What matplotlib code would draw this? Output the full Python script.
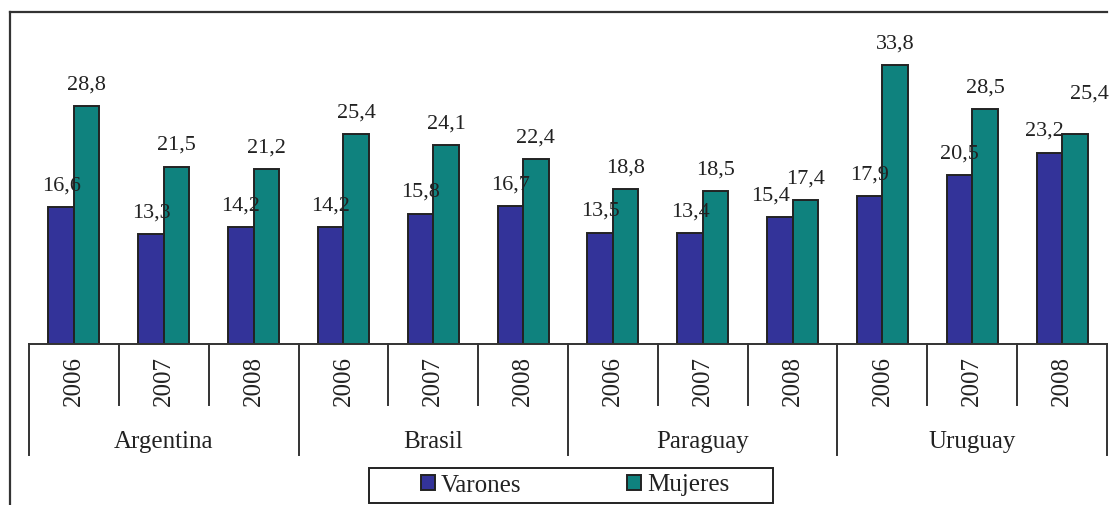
import numpy as np
import matplotlib.pyplot as plt
from matplotlib.lines import Line2D
from matplotlib.patches import Rectangle
from matplotlib.transforms import blended_transform_factory

plt.rcParams['font.family'] = ['Liberation Serif', 'DejaVu Serif']

# datos
paises = ['Argentina', 'Brasil', 'Paraguay', 'Uruguay']
anios = ['2006', '2007', '2008']
varones = [16.6, 13.3, 14.2, 14.2, 15.8, 16.7, 13.5, 13.4, 15.4, 17.9, 20.5, 23.2]
mujeres = [28.8, 21.5, 21.2, 25.4, 24.1, 22.4, 18.8, 18.5, 17.4, 33.8, 28.5, 25.4]

W, H = 1117, 505
fig = plt.figure(figsize=(W / 100, H / 100), dpi=100)

# ejes en pixeles
x0, x1, y_base, y_top = 29, 1107, 344, 14
ax = fig.add_axes([x0 / W, 1 - y_base / H, (x1 - x0) / W, (y_base - y_top) / H])

c_var = '#333399'
c_muj = '#0f827e'
edge = '#222222'
n = len(varones)
x = np.arange(n)
w = 0.284

b1 = ax.bar(x - w / 2, varones, w, color=c_var, edgecolor=edge, linewidth=1.4, label='Varones')
b2 = ax.bar(x + w / 2, mujeres, w, color=c_muj, edgecolor=edge, linewidth=1.4, label='Mujeres')

ax.set_xlim(-0.5, n - 0.5)
ax.set_ylim(0, 40)
for s in ['top', 'right', 'left']:
    ax.spines[s].set_visible(False)
ax.spines['bottom'].set_color('#333333')
ax.spines['bottom'].set_linewidth(1.4)
ax.set_xticks([])
ax.set_yticks([])
ax.patch.set_alpha(0)

# etiquetas de valores (pequeños ajustes como en el original)
ajuste_var = {8: (-9, 0), 11: (-5, 0)}
ajuste_muj = {11: (15, 19)}


def fmt(v):
    return f'{v:.1f}'.replace('.', ',')


for i in range(n):
    dx, dy = ajuste_var.get(i, (0, 0))
    ax.annotate(fmt(varones[i]), (x[i] - w / 2, varones[i]), xytext=(dx * 0.72, 12 + dy * 0.72),
                textcoords='offset points', ha='center', va='baseline', fontsize=16, color='#222222')
    dx, dy = ajuste_muj.get(i, (0, 0))
    ax.annotate(fmt(mujeres[i]), (x[i] + w / 2, mujeres[i]), xytext=(dx * 0.72, 12 + dy * 0.72),
                textcoords='offset points', ha='center', va='baseline', fontsize=16, color='#222222')

# eje de categorias en dos niveles
tr = blended_transform_factory(ax.transData, ax.transAxes)
ph = y_base - y_top


def fy(py):
    return -(py - y_base) / ph


for k in range(n + 1):
    xs = k - 0.5
    bottom = 455 if k % 3 == 0 else 405
    ax.add_line(Line2D([xs, xs], [0, fy(bottom)], transform=tr, color='#333333', lw=1.4, clip_on=False))

for i in range(n):
    ax.text(x[i], fy(381), anios[i % 3], transform=tr, rotation=90, ha='center', va='center',
            fontsize=18, color='#222222')

for g, p in enumerate(paises):
    ax.text(3 * g + 1, fy(448), p, transform=tr, ha='center', va='baseline',
            fontsize=18, color='#222222')

# leyenda
fig.legend(handles=[b1, b2], loc='center', bbox_to_anchor=(575 / W, 1 - 485.5 / H), ncol=2,
           frameon=False, fontsize=18, handlelength=0.56, handleheight=0.56, handletextpad=0.25,
           columnspacing=4.2, labelcolor='#222222')
fig.patches.append(Rectangle((369 / W, 1 - 503 / H), 404 / W, 35 / H, transform=fig.transFigure,
                             fill=False, edgecolor='#222222', lw=1.4))

# marco exterior (solo arriba e izquierda)
fig.add_artist(Line2D([10 / W, 1107 / W], [1 - 12 / H, 1 - 12 / H], transform=fig.transFigure,
                      color='#333333', lw=1.6))
fig.add_artist(Line2D([10 / W, 10 / W], [1 - 12 / H, 0], transform=fig.transFigure,
                      color='#333333', lw=1.6))

fig.savefig('out.png', dpi=100)
